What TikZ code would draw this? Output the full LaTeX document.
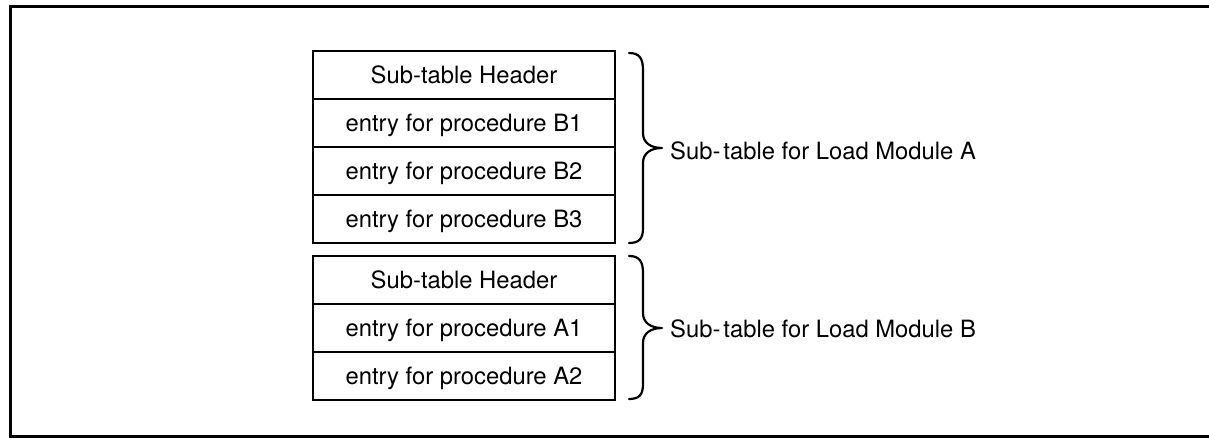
\documentclass[tikz,border=0pt]{standalone}
\usepackage{fontspec}
\setmainfont{TeX Gyre Heros}
\begin{document}
\begin{tikzpicture}[x=1pt,y=-1pt,
  cell/.style={draw, line width=2.2pt, rectangle, minimum width=302pt,
    minimum height=48pt, inner sep=0pt, anchor=north,
    font=\fontsize{23.8}{26}\selectfont, text height=16.5pt, text depth=0pt},
  label/.style={anchor=base west, inner sep=0pt,
    font=\fontsize{23.8}{26}\selectfont},
  bracestyle/.style={line width=2.2pt, line cap=round, line join=round},
  frame/.style={line width=3pt}]
\useasboundingbox (0,0) rectangle (1209,438);

% outer frame
\draw[frame] (1209,7) -- (10,7) -- (10,436) -- (1209,436);

% sub-table for load module A
\node[cell] (ahead) at (464,50)  {Sub-table Header};
\node[cell] (ab1)   at (464,98)  {entry for procedure B1};
\node[cell] (ab2)   at (464,146) {entry for procedure B2};
\node[cell] (ab3)   at (464,194) {entry for procedure B3};

% sub-table for load module B
\node[cell] (bhead) at (464,255) {Sub-table Header};
\node[cell] (ba1)   at (464,303) {entry for procedure A1};
\node[cell] (ba2)   at (464,351) {entry for procedure A2};

% braces
\draw[bracestyle] (629,53) .. controls (639,53) and (643,58) .. (643,70)
  -- (643,133) .. controls (643,143) and (651,148) .. (662,148)
  .. controls (651,148) and (643,153) .. (643,163)
  -- (643,228) .. controls (643,239) and (639,243) .. (629,243);
\draw[bracestyle] (629,256) .. controls (639,256) and (643,261) .. (643,273)
  -- (643,313) .. controls (643,323) and (651,328) .. (662,328)
  .. controls (651,328) and (643,333) .. (643,343)
  -- (643,384) .. controls (643,395) and (639,399) .. (629,399);

% labels
\node[label] (la) at (670,160) {Sub-\kern3pt table for Load Module A};
\node[label] (lb) at (670,337) {Sub-\kern3pt table for Load Module B};
\end{tikzpicture}
\end{document}
